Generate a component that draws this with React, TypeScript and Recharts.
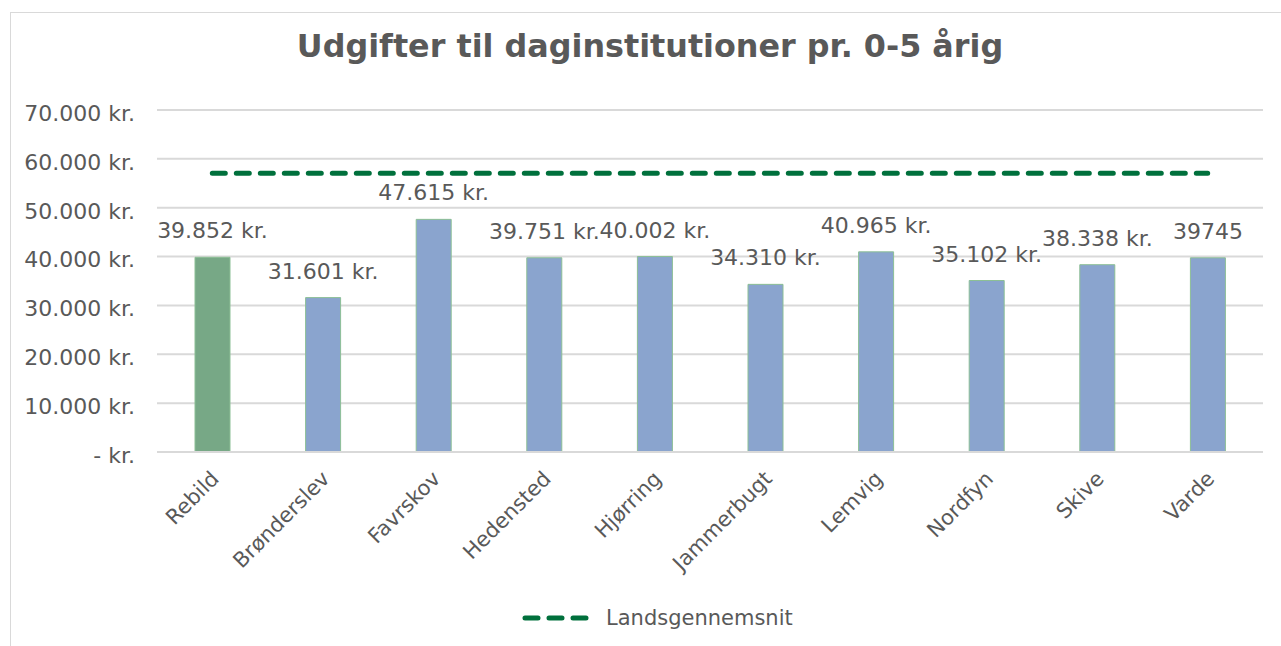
import { Bar, Cell, ComposedChart, CartesianGrid, LabelList, Line, XAxis, YAxis } from "recharts";

const kommuner = [
  "Rebild",
  "Brønderslev",
  "Favrskov",
  "Hedensted",
  "Hjørring",
  "Jammerbugt",
  "Lemvig",
  "Nordfyn",
  "Skive",
  "Varde",
];
const udgifter = [39852, 31601, 47615, 39751, 40002, 34310, 40965, 35102, 38338, 39745];
const labels = [
  "39.852 kr.",
  "31.601 kr.",
  "47.615 kr.",
  "39.751 kr.",
  "40.002 kr.",
  "34.310 kr.",
  "40.965 kr.",
  "35.102 kr.",
  "38.338 kr.",
  "39745",
];
const landsgennemsnit = 57050;
const yTicks = [0, 10000, 20000, 30000, 40000, 50000, 60000, 70000];

const TEXT = "#595959";
const FONT = "'DejaVu Sans', Verdana, sans-serif";

const data = kommuner.map((name, i) => ({
  name,
  value: udgifter[i],
  label: labels[i],
  avg: landsgennemsnit,
}));

const kr = (v: number) =>
  v === 0 ? "- kr." : `${String(v).replace(/\B(?=(\d{3})+(?!\d))/g, ".")} kr.`;

function XTick({ x, y, payload }: any) {
  const ax = x + 8;
  const ay = y + 20;
  return (
    <text
      x={ax}
      y={ay}
      transform={`rotate(-45, ${ax}, ${ay})`}
      textAnchor="end"
      fill={TEXT}
      fontSize={21}
      fontFamily={FONT}
    >
      {payload.value}
    </text>
  );
}

function BarLabel({ x, y, width, index }: any) {
  return (
    <text
      x={x + width / 2}
      y={y - 19}
      textAnchor="middle"
      fill={TEXT}
      fontSize={22}
      fontFamily={FONT}
    >
      {labels[index]}
    </text>
  );
}

export default function App() {
  return (
    <div
      style={{
        position: "absolute",
        left: 0,
        top: 0,
        width: 1281,
        height: 646,
        background: "#fff",
        overflow: "hidden",
        fontFamily: FONT,
      }}
    >
      <div
        style={{
          position: "absolute",
          left: 10,
          top: 12,
          width: 1300,
          height: 700,
          border: "1px solid #d9d9d9",
        }}
      />
      <div
        style={{
          position: "absolute",
          left: 0,
          width: 1300,
          top: 27,
          textAlign: "center",
          fontSize: 31.8,
          fontWeight: "bold",
          color: TEXT,
        }}
      >
        Udgifter til daginstitutioner pr. 0-5 årig
      </div>
      <div style={{ position: "absolute", left: 0, top: 0 }}>
        <ComposedChart
          width={1281}
          height={646}
          data={data}
          margin={{ top: 110, right: 18, bottom: 74, left: 10 }}
        >
          <CartesianGrid vertical={false} stroke="#d9d9d9" strokeWidth={2} />
          <XAxis
            dataKey="name"
            interval={0}
            height={120}
            tickLine={false}
            axisLine={{ stroke: "#d9d9d9", strokeWidth: 2 }}
            tick={<XTick />}
          />
          <YAxis
            width={147}
            domain={[0, 70000]}
            ticks={yTicks}
            tickFormatter={kr}
            tickLine={false}
            axisLine={false}
            tickMargin={16}
            tick={{ fill: TEXT, fontSize: 22, fontFamily: FONT, dy: 3 }}
          />
          <Bar dataKey="value" barSize={35} stroke="#8cbf95" strokeWidth={1} isAnimationActive={false}>
            {data.map((_, i) => (
              <Cell key={i} fill={i === 0 ? "#77a886" : "#8aa4ce"} />
            ))}
            <LabelList dataKey="label" content={<BarLabel />} />
          </Bar>
          <Line
            type="linear"
            dataKey="avg"
            stroke="#00703c"
            strokeWidth={5}
            strokeDasharray="13 11"
            strokeLinecap="round"
            dot={false}
            activeDot={false}
            isAnimationActive={false}
          />
        </ComposedChart>
      </div>
      <div
        style={{
          position: "absolute",
          left: 520,
          top: 606,
          display: "flex",
          alignItems: "center",
          gap: 14,
          fontSize: 21,
          color: TEXT,
        }}
      >
        <svg width={72} height={10}>
          <line
            x1={5}
            y1={5}
            x2={68}
            y2={5}
            stroke="#00703c"
            strokeWidth={5}
            strokeDasharray="13 11"
            strokeLinecap="round"
          />
        </svg>
        <span>Landsgennemsnit</span>
      </div>
    </div>
  );
}
